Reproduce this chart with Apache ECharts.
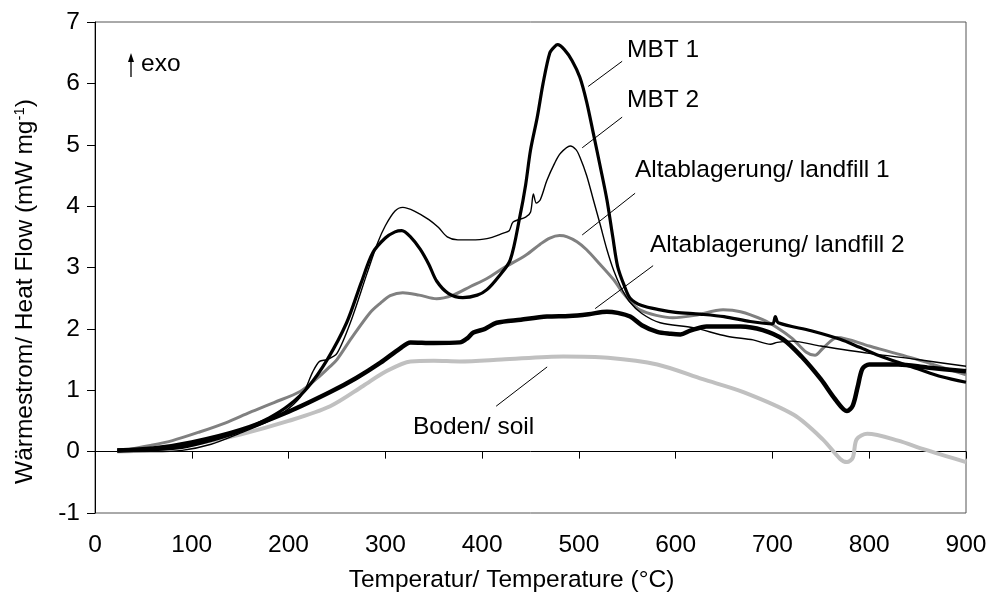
<!DOCTYPE html>
<html>
<head>
<meta charset="utf-8">
<script src="https://cdn.jsdelivr.net/npm/echarts@6/dist/echarts.min.js"></script>
<style>
	html, body { margin: 0; padding: 0; background: #fff; }
	#chart { width: 991px; height: 598px; }
</style>
</head>
<body>
<div id="chart"></div>
<script>
// DSC curves, [temperature °C, heat flow mW/mg]
var mbt1 = [[23,0.03],[50,0.03],[90,0.07],[120,0.18],[150,0.33],[180,0.55],[200,0.75],[220,1.05],[240,1.5],[260,2.1],[275,2.75],[287,3.24],[300,3.48],[310,3.58],[317,3.6],[326,3.5],[336,3.3],[345,3.05],[353,2.78],[365,2.58],[380,2.51],[395,2.55],[405,2.64],[417,2.85],[429,3.12],[439,3.83],[445,4.35],[450,4.91],[457,5.45],[463,6.0],[470,6.5],[475,6.6],[478,6.63],[485,6.55],[493,6.37],[501,6.1],[508,5.7],[515,5.18],[522,4.65],[529,4.1],[535,3.5],[540,3.02],[547,2.7],[553,2.5],[565,2.38],[584,2.31],[600,2.27],[625,2.24],[650,2.2],[677,2.12],[700,2.08],[703,2.2],[706,2.1],[740,1.97],[770,1.83],[790,1.7],[814,1.54],[850,1.35],[875,1.22],[900,1.13]];
var mbt2 = [[23,0.0],[60,0.0],[90,0.02],[120,0.12],[150,0.3],[180,0.5],[200,0.7],[215,0.95],[225,1.3],[232,1.47],[240,1.5],[250,1.6],[265,2.15],[281,2.9],[292,3.4],[300,3.68],[310,3.92],[318,3.98],[330,3.92],[345,3.78],[355,3.65],[364,3.5],[375,3.45],[388,3.45],[405,3.47],[422,3.56],[428,3.6],[432,3.74],[445,3.82],[450,3.9],[453,4.2],[456,4.05],[460,4.1],[467,4.42],[475,4.7],[481,4.86],[491,4.98],[497,4.92],[501,4.8],[508,4.5],[515,4.1],[522,3.7],[529,3.29],[536,2.95],[543,2.69],[552,2.45],[565,2.25],[584,2.1],[618,2.02],[653,1.88],[680,1.82],[698,1.75],[705,1.78],[720,1.8],[750,1.72],[800,1.6],[850,1.5],[900,1.39]];
var landfill1 = [[23,0],[57,0.1],[80,0.18],[108,0.32],[135,0.47],[160,0.64],[185,0.8],[212,0.98],[230,1.2],[243,1.39],[250,1.5],[265,1.85],[284,2.26],[295,2.42],[305,2.54],[318,2.59],[335,2.55],[353,2.49],[370,2.55],[388,2.69],[405,2.82],[422,2.99],[445,3.2],[460,3.38],[470,3.48],[480,3.52],[488,3.5],[498,3.42],[508,3.29],[522,3.05],[536,2.8],[543,2.64],[553,2.45],[563,2.31],[580,2.22],[597,2.18],[620,2.22],[649,2.31],[667,2.28],[690,2.15],[705,2.02],[720,1.85],[735,1.62],[744,1.57],[752,1.68],[767,1.86],[800,1.72],[850,1.5],[900,1.25]];
var landfill2 = [[23,0.02],[60,0.05],[100,0.15],[150,0.35],[200,0.65],[243,0.97],[270,1.2],[295,1.45],[315,1.68],[326,1.78],[350,1.77],[377,1.78],[385,1.85],[391,1.94],[403,2.0],[415,2.1],[440,2.15],[467,2.2],[490,2.21],[510,2.24],[529,2.28],[540,2.26],[553,2.2],[565,2.06],[581,1.95],[595,1.92],[605,1.91],[615,1.97],[632,2.04],[667,2.04],[690,1.98],[711,1.83],[730,1.55],[750,1.18],[765,0.85],[777,0.66],[783,0.75],[788,1.05],[793,1.35],[800,1.42],[830,1.42],[860,1.37],[900,1.31]];
var soil = [[23,0],[60,0.03],[100,0.12],[150,0.28],[200,0.5],[243,0.74],[277,1.07],[300,1.3],[326,1.47],[350,1.48],[377,1.47],[420,1.5],[484,1.55],[530,1.53],[581,1.42],[628,1.18],[670,0.97],[722,0.6],[752,0.2],[770,-0.12],[777,-0.17],[783,-0.1],[787,0.2],[798,0.29],[830,0.18],[856,0.04],[900,-0.17]];

// leader lines from labels to curves, in data coordinates
var leaderLines = [
	[[544.7, 6.36], [509.6, 5.95]],
	[[544.7, 5.45], [503.4, 4.95]],
	[[558.1, 4.21], [503.4, 3.53]],
	[[576.7, 3.03], [516.8, 2.33]],
	[[467.2, 1.38], [414.5, 0.74]]
];

var xTicks = { min: 0, max: 900, step: 100 };
var yTicks = { min: -1, max: 7, step: 1 };

var fontFamily = '"Liberation Sans", Arial, sans-serif';
var fontSize = 24.5;
var chart = echarts.init(document.getElementById('chart'));

function curve(name, data, color, width) {
	return {
		name: name,
		type: 'line',
		data: data,
		showSymbol: false,
		smooth: 0.3,
		lineStyle: { color: color, width: width },
		silent: true,
		animation: false
	};
}

function textEl(str, x, y) {
	return {
		type: 'text',
		left: x,
		top: y - 15,
		style: { text: str, fill: '#000', font: fontSize + 'px ' + fontFamily }
	};
}

var option = {
	backgroundColor: '#fff',
	animation: false,
	grid: {
		left: 95, right: 25, top: 22, bottom: 84,
		show: true, borderColor: '#555', borderWidth: 1
	},
	xAxis: {
		type: 'value',
		min: xTicks.min, max: xTicks.max, interval: xTicks.step,
		name: 'Temperatur/ Temperature (°C)',
		nameLocation: 'middle',
		nameGap: 55,
		nameTextStyle: { fontSize: fontSize, color: '#000', fontFamily: fontFamily, padding: [0, 38, 0, 0] },
		axisLine: { lineStyle: { color: '#000', width: 1 } },
		axisTick: { length: 7, lineStyle: { color: '#000' } },
		axisLabel: { fontSize: fontSize, color: '#000', fontFamily: fontFamily, margin: 20 },
		splitLine: { show: false }
	},
	yAxis: {
		type: 'value',
		min: yTicks.min, max: yTicks.max, interval: yTicks.step,
		name: 'Wärmestrom/ Heat Flow (mW mg{sup|-1})',
		nameLocation: 'middle',
		nameGap: 56,
		nameTextStyle: {
			fontSize: fontSize, color: '#000', fontFamily: fontFamily, padding: [0, 48, 0, 0],
			rich: { sup: { fontSize: 15, fontFamily: fontFamily, color: '#000', verticalAlign: 'bottom', padding: [0, 0, 12, 0] } }
		},
		axisLine: { show: true, lineStyle: { color: '#000', width: 1 } },
		axisTick: { show: true, length: 8, lineStyle: { color: '#000' } },
		axisLabel: { fontSize: fontSize, color: '#000', fontFamily: fontFamily, margin: 15 },
		splitLine: { show: false }
	},
	series: [
		curve('Boden/ soil', soil, '#c0c0c0', 4),
		curve('Altablagerung/ landfill 1', landfill1, '#808080', 3),
		curve('Altablagerung/ landfill 2', landfill2, '#000', 4.5),
		curve('MBT 2', mbt2, '#000', 1.4),
		curve('MBT 1', mbt1, '#000', 3.2),
		{
			name: 'leaders',
			type: 'line',
			data: [],
			silent: true,
			markLine: {
				silent: true,
				symbol: ['none', 'none'],
				animation: false,
				label: { show: false },
				lineStyle: { color: '#000', width: 1, type: 'solid' },
				data: leaderLines.map(function (l) {
					return [{ coord: l[0] }, { coord: l[1] }];
				})
			}
		}
	],
	graphic: [
		textEl('MBT 1', 627, 53),
		textEl('MBT 2', 627, 103),
		textEl('Altablagerung/ landfill 1', 635, 173),
		textEl('Altablagerung/ landfill 2', 650, 248),
		textEl('Boden/ soil', 413, 430),
		textEl('exo', 141, 67),
		{ type: 'line', shape: { x1: 131, y1: 77, x2: 131, y2: 58 }, style: { stroke: '#000', lineWidth: 1.3 } },
		{ type: 'polygon', shape: { points: [[128, 62], [131, 53], [134, 62]] }, style: { fill: '#000' } }
	]
};
chart.setOption(option);
</script>
</body>
</html>
